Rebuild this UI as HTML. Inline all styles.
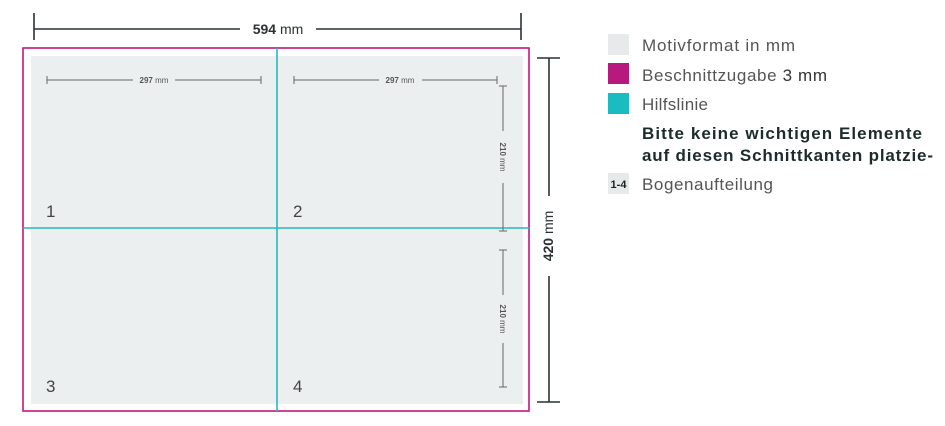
<!DOCTYPE html>
<html><head><meta charset="utf-8"><style>
body{margin:0;background:#fff;width:945px;height:421px;overflow:hidden}
svg text{font-family:"Liberation Sans",sans-serif}
</style></head><body>
<svg width="945" height="421" viewBox="0 0 945 421" xmlns="http://www.w3.org/2000/svg">
<rect x="31" y="56" width="492" height="348" fill="#eceff0"/>
<rect x="23" y="48" width="506" height="363" fill="none" stroke="#c5167d" stroke-width="1.6"/>
<line x1="277" y1="48" x2="277" y2="411" stroke="#27b8c4" stroke-width="1.6"/>
<line x1="23" y1="228" x2="529" y2="228" stroke="#27b8c4" stroke-width="1.6"/>
<g stroke="#2a3233" stroke-width="1.6">
<line x1="34" y1="29" x2="240" y2="29"/><line x1="316" y1="29" x2="521" y2="29"/>
<line x1="34" y1="13" x2="34" y2="40"/><line x1="521" y1="13" x2="521" y2="40"/>
<line x1="549" y1="58" x2="549" y2="196"/><line x1="549" y1="276" x2="549" y2="402"/>
<line x1="537" y1="58" x2="560" y2="58"/><line x1="537" y1="402" x2="560" y2="402"/>
</g>
<text x="278" y="34" text-anchor="middle" font-size="14" fill="#2a3233"><tspan font-weight="bold">594</tspan> mm</text>
<text transform="translate(553,236) rotate(-90)" text-anchor="middle" font-size="14" fill="#2a3233"><tspan font-weight="bold">420</tspan> mm</text>
<g stroke="#666" stroke-width="1">
<line x1="47" y1="80" x2="133" y2="80"/><line x1="175" y1="80" x2="261" y2="80"/>
<line x1="47" y1="76" x2="47" y2="84"/><line x1="261" y1="76" x2="261" y2="84"/>
<line x1="294" y1="80" x2="379" y2="80"/><line x1="422" y1="80" x2="497" y2="80"/>
<line x1="294" y1="76" x2="294" y2="84"/><line x1="497" y1="76" x2="497" y2="84"/>
<line x1="503" y1="86" x2="503" y2="131"/><line x1="503" y1="183" x2="503" y2="231"/>
<line x1="499" y1="86" x2="507" y2="86"/><line x1="499" y1="231" x2="507" y2="231"/>
<line x1="503" y1="250" x2="503" y2="295"/><line x1="503" y1="343" x2="503" y2="387"/>
<line x1="499" y1="250" x2="507" y2="250"/><line x1="499" y1="387" x2="507" y2="387"/>
</g>
<g font-size="8" fill="#555">
<text x="154" y="83" text-anchor="middle"><tspan font-weight="bold">297</tspan> mm</text>
<text x="400" y="83" text-anchor="middle"><tspan font-weight="bold">297</tspan> mm</text>
<text transform="translate(500,157) rotate(90)" text-anchor="middle"><tspan font-weight="bold">210</tspan> mm</text>
<text transform="translate(500,319) rotate(90)" text-anchor="middle"><tspan font-weight="bold">210</tspan> mm</text>
</g>
<g font-size="17" fill="#444">
<text x="46" y="217">1</text><text x="293" y="217">2</text>
<text x="46" y="392">3</text><text x="293" y="392">4</text>
</g>
<rect x="608" y="34" width="21" height="21" fill="#e6eaeb"/>
<rect x="608" y="63" width="21" height="21" fill="#b8197e"/>
<rect x="608" y="93" width="21" height="21" fill="#1bbcc1"/>
<rect x="608" y="173" width="21" height="21" fill="#e6eaeb"/>
<g font-size="17" fill="#555">
<text x="642" y="51" textLength="153">Motivformat in mm</text>
<text x="642" y="81" textLength="185">Beschnittzugabe <tspan fill="#333">3 mm</tspan></text>
<text x="642" y="110" textLength="66">Hilfslinie</text>
<text x="642" y="190" textLength="131">Bogenaufteilung</text>
</g>
<g font-size="17" font-weight="bold" fill="#1e2b2b">
<text x="642" y="139" textLength="280">Bitte keine wichtigen Elemente</text>
<text x="642" y="161" textLength="291">auf diesen Schnittkanten platzie-</text>
</g>
<text x="618.5" y="188" text-anchor="middle" font-size="11" font-weight="bold" fill="#222">1-4</text>
</svg>
</body></html>
